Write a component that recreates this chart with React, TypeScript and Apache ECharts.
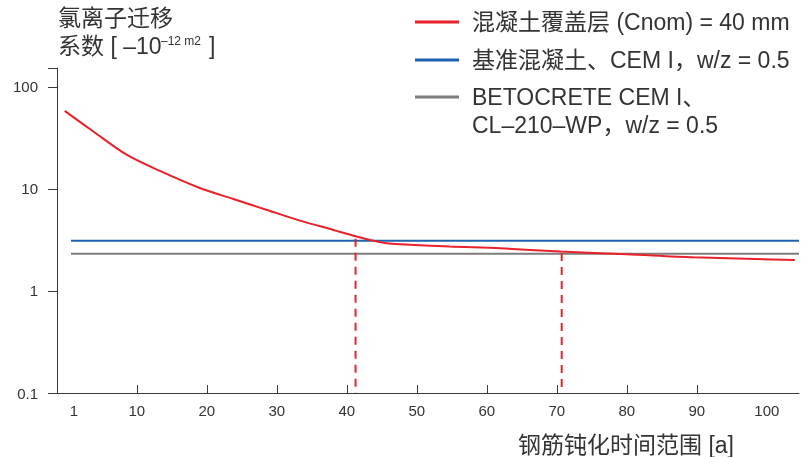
import React, { useEffect, useRef } from 'react';
import * as echarts from 'echarts';

// ---- texts ----
const yAxisTitleLine1 = '氯离子迁移';
const yAxisTitleLine2 = '系数 [ –10';
const yAxisTitleSup = '–12 m2';
const yAxisTitleEnd = ']';
const xAxisTitle = '钢筋钝化时间范围 [a]';

const seriesNames = [
  '混凝土覆盖层 (Cnom) = 40 mm',
  '基准混凝土、CEM I，w/z = 0.5',
  'BETOCRETE CEM I、CL–210–WP，w/z = 0.5',
];
const grayLegendLines = ['BETOCRETE CEM I、', 'CL–210–WP，w/z = 0.5'];

// ---- ticks ----
const xTickLabels = [1, 10, 20, 30, 40, 50, 60, 70, 80, 90, 100];
const xTickMarks = [10, 20, 30, 40, 50, 60, 70, 80, 90];
const yTickValues = [0.1, 1, 10, 100];
const yTickLabels = ['0.1', '1', '10', '100'];

// ---- data ----
const redYears = [-0.3, 3.8, 8.6, 13.3, 19.0, 23.8, 28.6, 33.3, 38.1, 41.4, 43.3, 45.7, 47.6, 54.7, 61.9, 70.5, 80.0, 89.5, 104.0];
const redValues = [58.2, 36.5, 21.5, 15.0, 10.2, 7.95, 6.22, 4.89, 3.96, 3.41, 3.16, 2.94, 2.87, 2.72, 2.62, 2.43, 2.29, 2.14, 2.01];
const blueYears = [0.6, 104.6];
const blueValues = [3.11, 3.11];
const grayYears = [0.6, 104.6];
const grayValues = [2.31, 2.31];
const markerYears = [41.25, 70.7];
const markerTops = [3.24, 2.36];
const markerBottom = 0.1;

const X_MIN = -1.4;
const X_MAX = 104.6;
const Y_MIN = 0.1;
const Y_MAX = 153;

const RED = '#e8212b';
const BLUE = '#1d63b1';
const GRAY = '#7d7d7d';
const TEXT = '#333333';
const AXIS = '#3a3a3a';
const FONT = '"Liberation Sans", "Noto Sans CJK SC", sans-serif';

const zip = (xs: number[], ys: number[]) => xs.map((x, i) => [x, ys[i]]);

export default function App() {
  const ref = useRef<HTMLDivElement>(null);
  useEffect(() => {
    if (!ref.current) return;
    const chart = echarts.init(ref.current, undefined, { renderer: 'svg' });
    const markerSeries = markerYears.map((x, i) => ({
      type: 'line',
      name: 'marker' + i,
      data: [[x, markerTops[i]], [x, markerBottom]],
      symbol: 'none',
      silent: true,
      lineStyle: { color: RED, width: 2, type: [8, 6] },
      itemStyle: { color: RED },
      z: 2,
    }));
    const legendText = { fontSize: 23, color: TEXT, fontFamily: FONT, lineHeight: 28, padding: [0, 0, 0, 8] };
    const option: any = {
      animation: false,
      textStyle: { fontFamily: FONT },
      grid: { left: 57, right: 10, top: 68, bottom: 64, containLabel: false, outerBoundsMode: 'none' },
      legend: [
        {
          data: [seriesNames[0], seriesNames[1]],
          orient: 'vertical',
          left: 415,
          top: 8,
          padding: 0,
          itemWidth: 44,
          itemHeight: 3,
          itemGap: 10,
          icon: 'rect',
          selectedMode: false,
          textStyle: legendText,
        },
        {
          data: [seriesNames[2]],
          orient: 'vertical',
          left: 415,
          top: 55,
          padding: 0,
          itemWidth: 44,
          itemHeight: 3,
          icon: 'rect',
          selectedMode: false,
          formatter: () => ['', ...grayLegendLines].join('\n'),
          textStyle: legendText,
        },
      ],
      xAxis: {
        type: 'value',
        min: X_MIN,
        max: X_MAX,
        splitLine: { show: false },
        axisLine: { show: true, onZero: false, lineStyle: { color: AXIS, width: 1 } },
        axisTick: { show: true, inside: true, length: 8, customValues: xTickMarks, lineStyle: { color: AXIS } },
        axisLabel: {
          customValues: xTickLabels,
          margin: 10,
          fontSize: 15,
          color: TEXT,
          fontFamily: FONT,
          formatter: (v: number) => String(v),
        },
      },
      yAxis: {
        type: 'log',
        logBase: 10,
        min: Y_MIN,
        max: Y_MAX,
        splitLine: { show: false },
        minorTick: { show: false },
        axisLine: { show: true, onZero: false, lineStyle: { color: AXIS, width: 1 } },
        axisTick: { show: true, inside: false, length: 9, lineStyle: { color: AXIS } },
        axisLabel: {
          margin: 19,
          fontSize: 15,
          color: TEXT,
          fontFamily: FONT,
          showMaxLabel: true,
          formatter: (v: number) => {
            const idx = yTickValues.findIndex((t) => Math.abs(t - v) / t < 1e-6);
            return idx >= 0 ? yTickLabels[idx] : '';
          },
        },
      },
      graphic: [
        { type: 'text', left: 58, top: 6, style: { text: yAxisTitleLine1, font: `23px ${FONT}`, fill: TEXT } },
        { type: 'text', x: 58, y: 46, style: { text: yAxisTitleLine2, font: `23px ${FONT}`, fill: TEXT, verticalAlign: 'middle' } },
        { type: 'text', x: 161, y: 41, style: { text: yAxisTitleSup, font: `12px ${FONT}`, fill: TEXT, verticalAlign: 'middle' } },
        { type: 'text', x: 209, y: 46, style: { text: yAxisTitleEnd, font: `23px ${FONT}`, fill: TEXT, verticalAlign: 'middle' } },
        { type: 'text', x: 518, y: 445, style: { text: xAxisTitle, font: `23px ${FONT}`, fill: TEXT, verticalAlign: 'middle' } },
      ],
      series: [
        {
          type: 'line',
          name: seriesNames[1],
          data: zip(blueYears, blueValues),
          symbol: 'none',
          lineStyle: { color: BLUE, width: 2 },
          itemStyle: { color: BLUE },
          z: 2,
        },
        {
          type: 'line',
          name: seriesNames[2],
          data: zip(grayYears, grayValues),
          symbol: 'none',
          lineStyle: { color: GRAY, width: 2 },
          itemStyle: { color: GRAY },
          z: 2,
        },
        ...markerSeries,
        {
          type: 'line',
          name: seriesNames[0],
          data: zip(redYears, redValues),
          symbol: 'none',
          smooth: 0.3,
          lineStyle: { color: RED, width: 2 },
          itemStyle: { color: RED },
          z: 3,
        },
      ],
    };
    chart.setOption(option);
    return () => chart.dispose();
  }, []);
  return <div ref={ref} style={{ position: 'fixed', left: 0, top: 0, width: 809, height: 457 }} />;
}
